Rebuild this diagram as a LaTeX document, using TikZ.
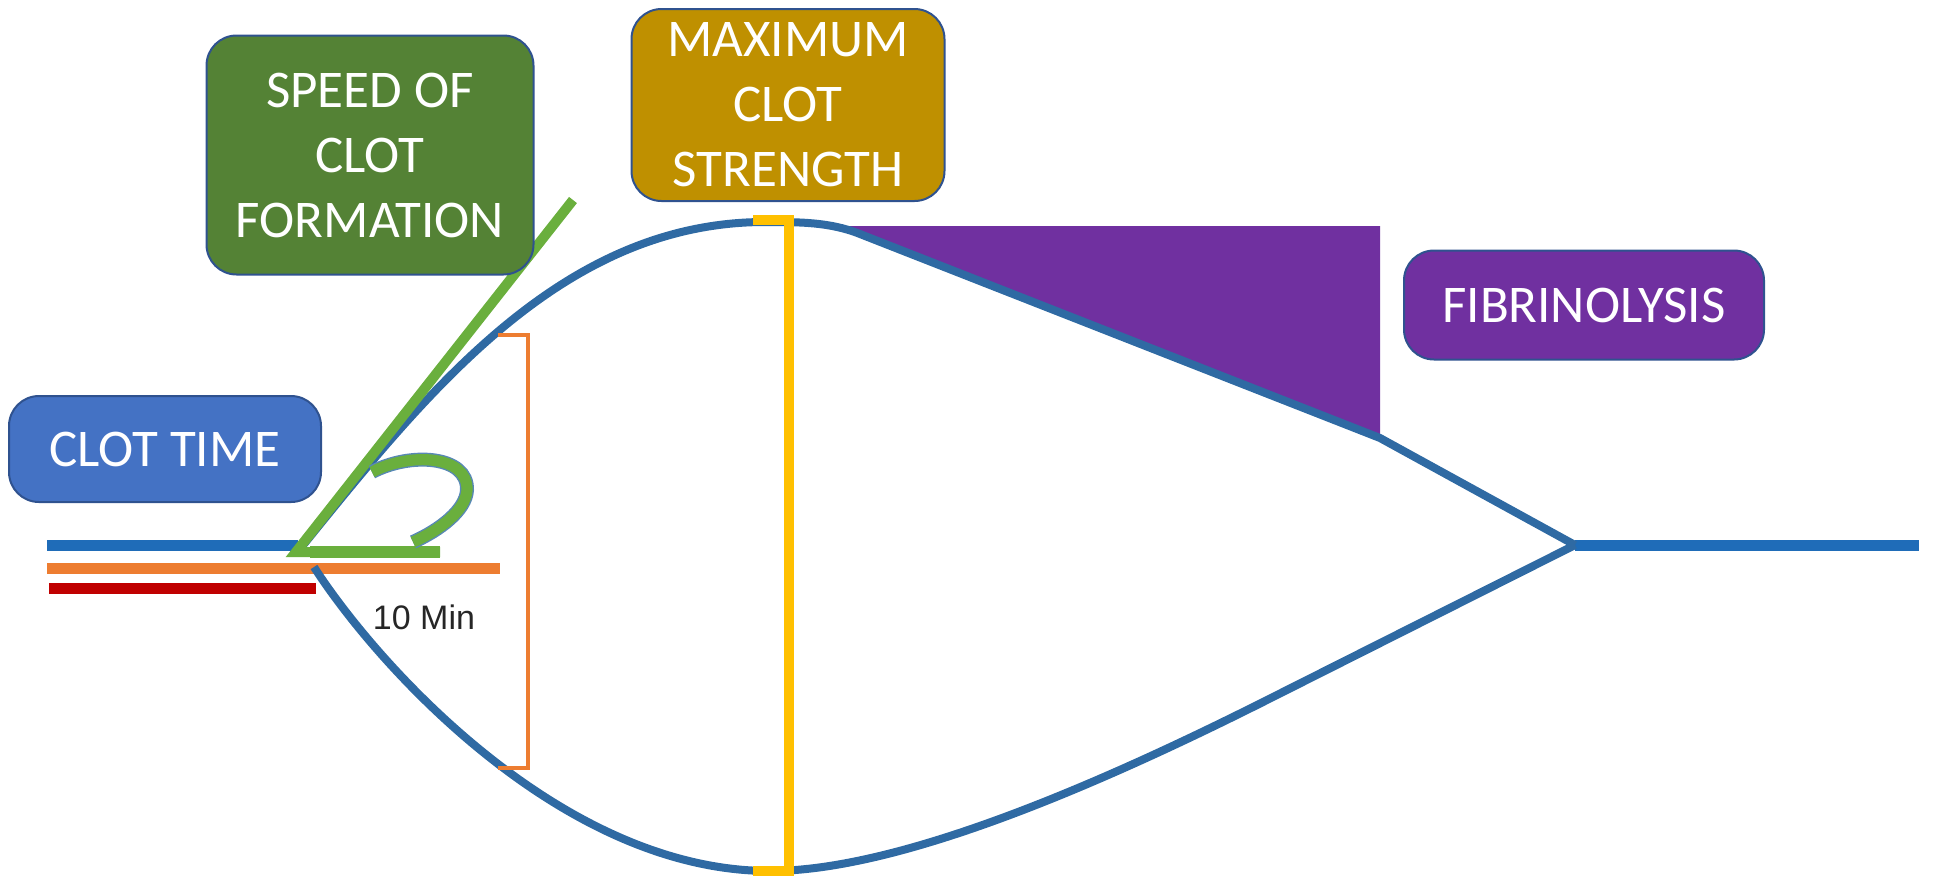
\documentclass[tikz,border=0pt]{standalone}
\usepackage{fontspec}
\setmainfont{Carlito}
\newfontfamily\minfont{Liberation Sans}
\usetikzlibrary{positioning}

\definecolor{traceblue}{HTML}{2F6AA3}
\definecolor{baseblue}{HTML}{1F6CB8}
\definecolor{baseorange}{HTML}{ED7D31}
\definecolor{basered}{HTML}{C00000}
\definecolor{anglegreen}{HTML}{6AAF3D}
\definecolor{boxedge}{HTML}{2F528F}
\definecolor{timeblue}{HTML}{4472C4}
\definecolor{speedgreen}{HTML}{548235}
\definecolor{strengthgold}{HTML}{BF9000}
\definecolor{strengthyellow}{HTML}{FFC000}
\definecolor{lysispurple}{HTML}{7030A0}

\tikzset{
  labelbox/.style={draw=boxedge, line width=1pt, rounded corners=15pt, text=white,
    align=center, inner sep=0pt, font=\fontsize{26.5}{32.5}\selectfont},
  trace/.style={traceblue, line width=4pt},
  baseline/.style={line width=5.5pt}
}

\begin{document}
\begin{tikzpicture}[x=0.5pt, y=-0.5pt]
  \useasboundingbox (0,0) rectangle (1934,880);

  % key points of the trace
  \coordinate (start) at (300,549);
  \coordinate (baseend) at (298,545);
  \coordinate (lowstart) at (314,567);
  \coordinate (peak) at (765,222);
  \coordinate (bottom) at (770,871);
  \coordinate (bend) at (1380,438);
  \coordinate (join) at (1575,545);

  % lysis area
  \fill[lysispurple] (840,226) -- (1380,226) -- (bend) -- (860,234) .. controls (852,231) and (846,228) .. (840,226);

  % baselines
  \draw[baseline, baseblue] (47,545) -- (baseend);
  \draw[baseline, baseorange] (47,568) -- (500,568);
  \draw[baseline, basered] (49,588) -- (316,588);
  \draw[baseline, baseblue] (join) -- (1919,545);

  % trace
  \draw[trace] (start) .. controls (425,395) and (560,222) .. (peak)
    .. controls (800,222) and (830,222) .. (860,234) -- (bend) -- (join);
  \draw[trace] (lowstart) .. controls (375,662) and (560,871) .. (bottom)
    .. controls (900,871) and (1100,784) .. (1267,700) -- (join);

  % speed angle
  \draw[anglegreen, line width=5pt, line join=miter] (573,200) -- (296,552) -- (440,552);
  \draw[anglegreen, line width=6pt] (310,552) -- (440,552);
  \draw[traceblue!80, line width=7pt]
    (372,472) .. controls (410,452) and (468,455) .. (467,490) .. controls (466,510) and (440,530) .. (413,542);
  \draw[anglegreen, line width=5.6pt]
    (372,472) .. controls (410,452) and (468,455) .. (467,490) .. controls (466,510) and (440,530) .. (413,542);

  % brackets
  \draw[baseorange, line width=2.4pt] (498,335) -- (528,335) -- (528,768) -- (498,768);
  \draw[strengthyellow, line width=5pt] (753,220) -- (789,220) -- (789,871) -- (753,871);

  \node[text=black!85, font=\minfont\fontsize{17}{20}\selectfont] (tenmin) at (424,617) {10 Min};

  % labels
  \node[labelbox, fill=timeblue, minimum width=156pt, minimum height=53pt] (clottime) at (165,449) {CLOT TIME};
  \node[labelbox, fill=speedgreen, minimum width=163.5pt, minimum height=119.5pt] (speed) at (370,155) {SPEED OF\\CLOT\\FORMATION};
  \node[labelbox, fill=strengthgold, minimum width=156.5pt, minimum height=96pt] (strength) at (788,105) {MAXIMUM\\CLOT\\STRENGTH};
  \node[labelbox, fill=lysispurple, minimum width=180pt, minimum height=54.5pt] (lysis) at (1584,305) {FIBRINOLYSIS};
\end{tikzpicture}
\end{document}
